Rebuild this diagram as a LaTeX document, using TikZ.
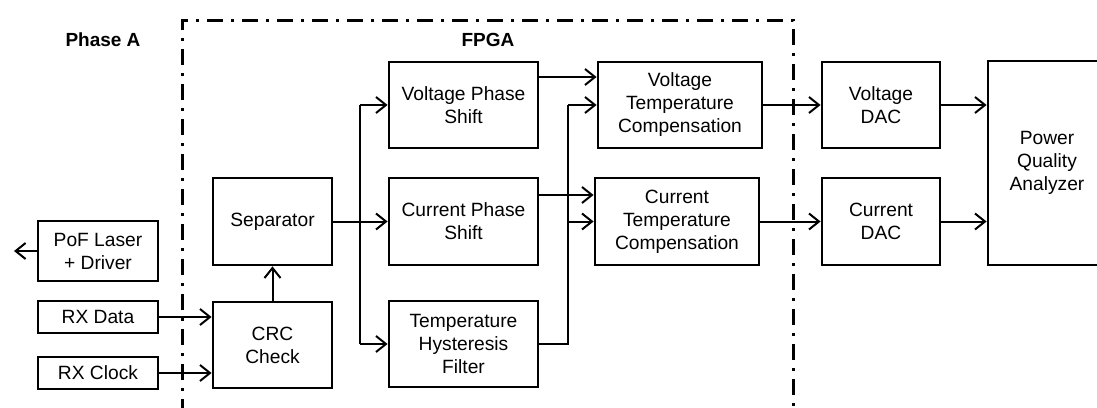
\documentclass[tikz,border=0pt]{standalone}
\usepackage{fontspec}
\setmainfont{Liberation Sans}
\usetikzlibrary{arrows.meta}
\begin{document}
\begin{tikzpicture}[x=1pt,y=-1pt,
  blk/.style={draw, line width=2.8pt, align=center, inner sep=0pt, font=\fontsize{19.2}{23}\selectfont},
  conn/.style={line width=2pt, -{Straight Barb[length=10pt,width=16pt,line width=2pt]}},
  wire/.style={line width=2pt},
  frame/.style={line width=3pt, dash pattern=on 16pt off 8pt on 3pt off 8pt},
  lbl/.style={font=\fontsize{19}{23}\selectfont\bfseries}]
\useasboundingbox (0,0) rectangle (1097,407);
\begin{scope}
\clip (0,0) rectangle (1097,407);
% frame
\draw[frame] (182,415) -- (182,20) -- (793,20) -- (793,415);
\node[lbl] (phaseA) at (103,40) {Phase A};
\node[lbl] (fpga) at (488,40) {FPGA};
% blocks
\node[blk, minimum width=120pt, minimum height=60pt] (pof) at (98,251) {PoF Laser\\+ Driver};
\node[blk, minimum width=120pt, minimum height=32pt] (rxd) at (98,317) {RX Data};
\node[blk, minimum width=120pt, minimum height=32pt] (rxc) at (98,373) {RX Clock};
\node[blk, minimum width=119pt, minimum height=87pt] (sep) at (272.5,221.5) {Separator};
\node[blk, minimum width=119pt, minimum height=86pt] (crc) at (272.5,345) {CRC\\Check};
\node[blk, minimum width=149pt, minimum height=86pt] (vps) at (463.5,105) {Voltage Phase\\Shift};
\node[blk, minimum width=149pt, minimum height=87pt] (cps) at (463.5,221.5) {Current Phase\\Shift};
\node[blk, minimum width=149pt, minimum height=86pt] (thf) at (463.5,344) {Temperature\\Hysteresis\\Filter};
\node[blk, minimum width=164pt, minimum height=86pt] (vtc) at (680,105) {Voltage\\Temperature\\Compensation};
\node[blk, minimum width=164pt, minimum height=87pt] (ctc) at (677,221.5) {Current\\Temperature\\Compensation};
\node[blk, minimum width=118pt, minimum height=86pt] (vdac) at (881,105) {Voltage\\DAC};
\node[blk, minimum width=118pt, minimum height=87pt] (cdac) at (881,221.5) {Current\\DAC};
\node[blk, minimum width=118pt, minimum height=204pt] (pqa) at (1047,163) {Power\\Quality\\Analyzer};
% connectors
\coordinate (out) at (14,251);
\draw[conn] (pof.west) -- (out);
\draw[conn] (rxd.east) -- (rxd.east -| crc.west);
\draw[conn] (rxc.east) -- (rxc.east -| crc.west);
\draw[conn] (crc.north) -- (sep.south);
\draw[conn] (sep.east) -- (cps.west);
\draw[wire] (360,105) -- (360,344);
\draw[conn] (360,105) -- (vps.west);
\draw[conn] (360,344) -- (thf.west);
\draw[conn] ([yshift=28pt]vps.east) -- ([yshift=28pt]vps.east -| vtc.west);
\draw[conn] ([yshift=26.5pt]cps.east) -- ([yshift=26.5pt]cps.east -| ctc.west);
\coordinate (tb) at (568,344);
\draw[wire] (thf.east) -- (tb) -- (568,105);
\draw[conn] (568,105) -- (vtc.west);
\draw[conn] (568,221.5) -- (ctc.west);
\draw[conn] (vtc.east) -- (vdac.west);
\draw[conn] (ctc.east) -- (cdac.west);
\draw[conn] (vdac.east) -- (vdac.east -| pqa.west);
\draw[conn] (cdac.east) -- (cdac.east -| pqa.west);
\end{scope}
\end{tikzpicture}
\end{document}
